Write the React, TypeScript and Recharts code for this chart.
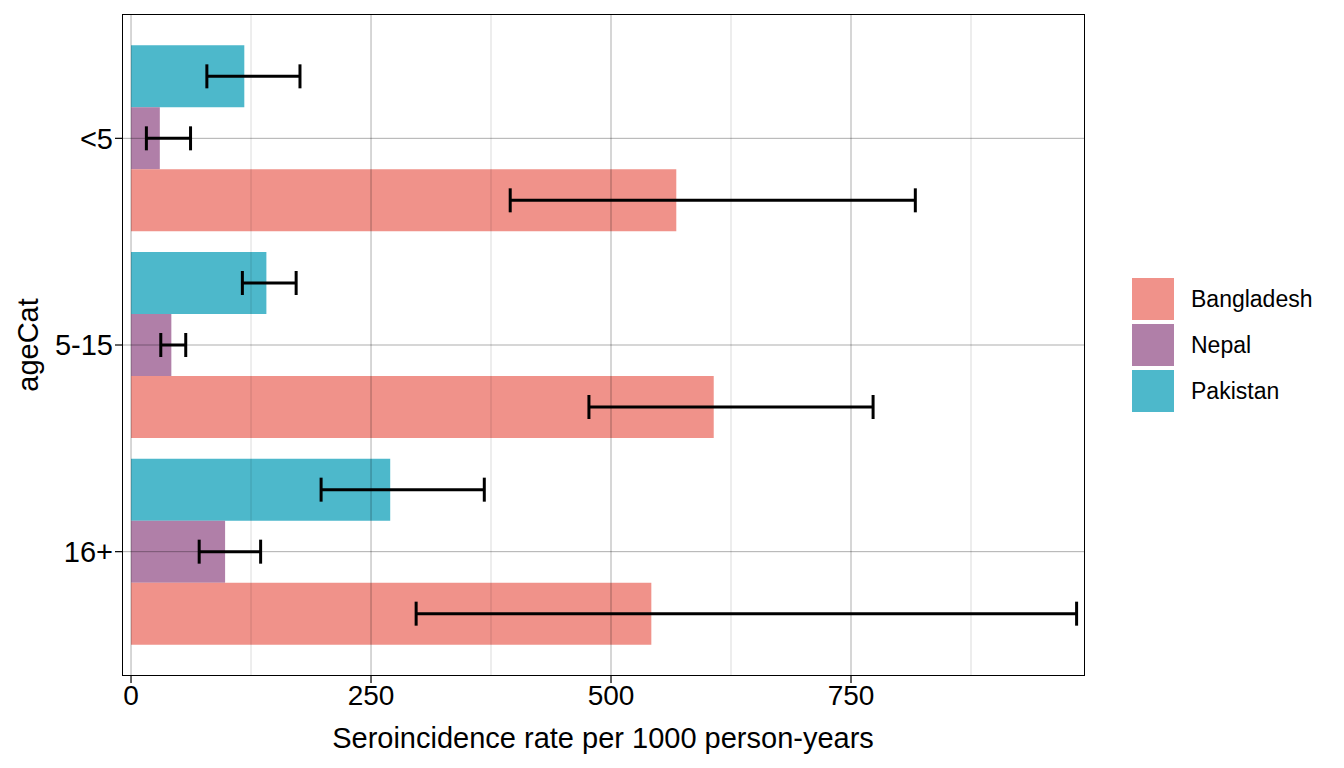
import React from 'react';
import {
  ComposedChart,
  Bar,
  ErrorBar,
  XAxis,
  YAxis,
  ReferenceLine,
} from 'recharts';

const ageCats = ['<5', '5-15', '16+'];

const bangladesh = [568, 607, 542];
const bangladeshLow = [395, 477, 297];
const bangladeshHigh = [817, 773, 985];

const nepal = [30, 42, 98];
const nepalLow = [16, 31, 71];
const nepalHigh = [62, 57, 135];

const pakistan = [118, 141, 270];
const pakistanLow = [79, 116, 198];
const pakistanHigh = [176, 172, 368];

const xTicks = [0, 250, 500, 750];
const minorTicks = [125, 375, 625, 875];

const legendItems = [
  { name: 'Bangladesh', color: '#F0928A' },
  { name: 'Nepal', color: '#B07FA8' },
  { name: 'Pakistan', color: '#4DB8CB' },
];

const data = ageCats.map((ageCat, i) => ({
  ageCat,
  Bangladesh: bangladesh[i],
  BangladeshErr: [bangladesh[i] - bangladeshLow[i], bangladeshHigh[i] - bangladesh[i]],
  Nepal: nepal[i],
  NepalErr: [nepal[i] - nepalLow[i], nepalHigh[i] - nepal[i]],
  Pakistan: pakistan[i],
  PakistanErr: [pakistan[i] - pakistanLow[i], pakistanHigh[i] - pakistan[i]],
}));

const font = '"Liberation Sans", Arial, sans-serif';

function LegendBox() {
  return (
    <div style={{ position: 'absolute', left: 1132, top: 276, fontFamily: font }}>
      {legendItems.map((it) => (
        <div key={it.name} style={{ display: 'flex', alignItems: 'center', height: 46 }}>
          <div style={{ width: 42, height: 42, background: it.color }} />
          <span style={{ marginLeft: 17, fontSize: 23, color: '#000' }}>{it.name}</span>
        </div>
      ))}
    </div>
  );
}

export default function App() {
  return (
    <div style={{ position: 'absolute', left: 0, top: 0, width: 1344, height: 768, background: '#fff' }}>
      <ComposedChart
        width={1344}
        height={768}
        data={data}
        layout="vertical"
        margin={{ top: 14, right: 259, bottom: 0, left: 0 }}
        barCategoryGap="5%"
        barGap={0}
        style={{ fontFamily: font }}
      >
        <XAxis
          type="number"
          domain={[-9.4, 993.75]}
          ticks={xTicks}
          allowDataOverflow
          height={92}
          axisLine={false}
          tickLine={{ stroke: '#000', strokeWidth: 1.2 }}
          tickSize={7}
          tick={{ fill: '#000', fontSize: 28 }}
          label={() => (
            <text x={603} y={748} textAnchor="middle" fontSize={29} fill="#000" fontFamily={font}>
              Seroincidence rate per 1000 person-years
            </text>
          )}
        />
        <YAxis
          type="category"
          dataKey="ageCat"
          width={122}
          padding={{ top: 21, bottom: 21 }}
          axisLine={false}
          tickLine={{ stroke: '#000', strokeWidth: 1.2 }}
          tickSize={7}
          tick={{ fill: '#000', fontSize: 29 }}
          label={() => (
            <text
              x={28}
              y={345}
              transform="rotate(-90 28 345)"
              textAnchor="middle"
              dominantBaseline="central"
              fontSize={29}
              fill="#000"
              fontFamily={font}
            >
              ageCat
            </text>
          )}
        />
        <Bar dataKey="Pakistan" fill="#21A6BE" fillOpacity={0.8} isAnimationActive={false}>
          <ErrorBar dataKey="PakistanErr" direction="x" width={12} stroke="#000" strokeWidth={3} />
        </Bar>
        <Bar dataKey="Nepal" fill="#9C5F92" fillOpacity={0.8} isAnimationActive={false}>
          <ErrorBar dataKey="NepalErr" direction="x" width={12} stroke="#000" strokeWidth={3} />
        </Bar>
        <Bar dataKey="Bangladesh" fill="#EC776D" fillOpacity={0.8} isAnimationActive={false}>
          <ErrorBar dataKey="BangladeshErr" direction="x" width={12} stroke="#000" strokeWidth={3} />
        </Bar>
        {/* grid lines: translucent black so they darken the bars like the original */}
        {minorTicks.map((t) => (
          <ReferenceLine key={'m' + t} x={t} stroke="#000" strokeOpacity={0.14} strokeWidth={1} />
        ))}
        {xTicks.map((t) => (
          <ReferenceLine key={'M' + t} x={t} stroke="#000" strokeOpacity={0.32} strokeWidth={1} />
        ))}
        {ageCats.map((c) => (
          <ReferenceLine key={'h' + c} y={c} stroke="#000" strokeOpacity={0.32} strokeWidth={1} />
        ))}
      </ComposedChart>
      <div
        style={{
          position: 'absolute',
          left: 122,
          top: 14,
          width: 963,
          height: 662,
          boxSizing: 'border-box',
          border: '1.2px solid #000',
          pointerEvents: 'none',
        }}
      />
      <LegendBox />
    </div>
  );
}
